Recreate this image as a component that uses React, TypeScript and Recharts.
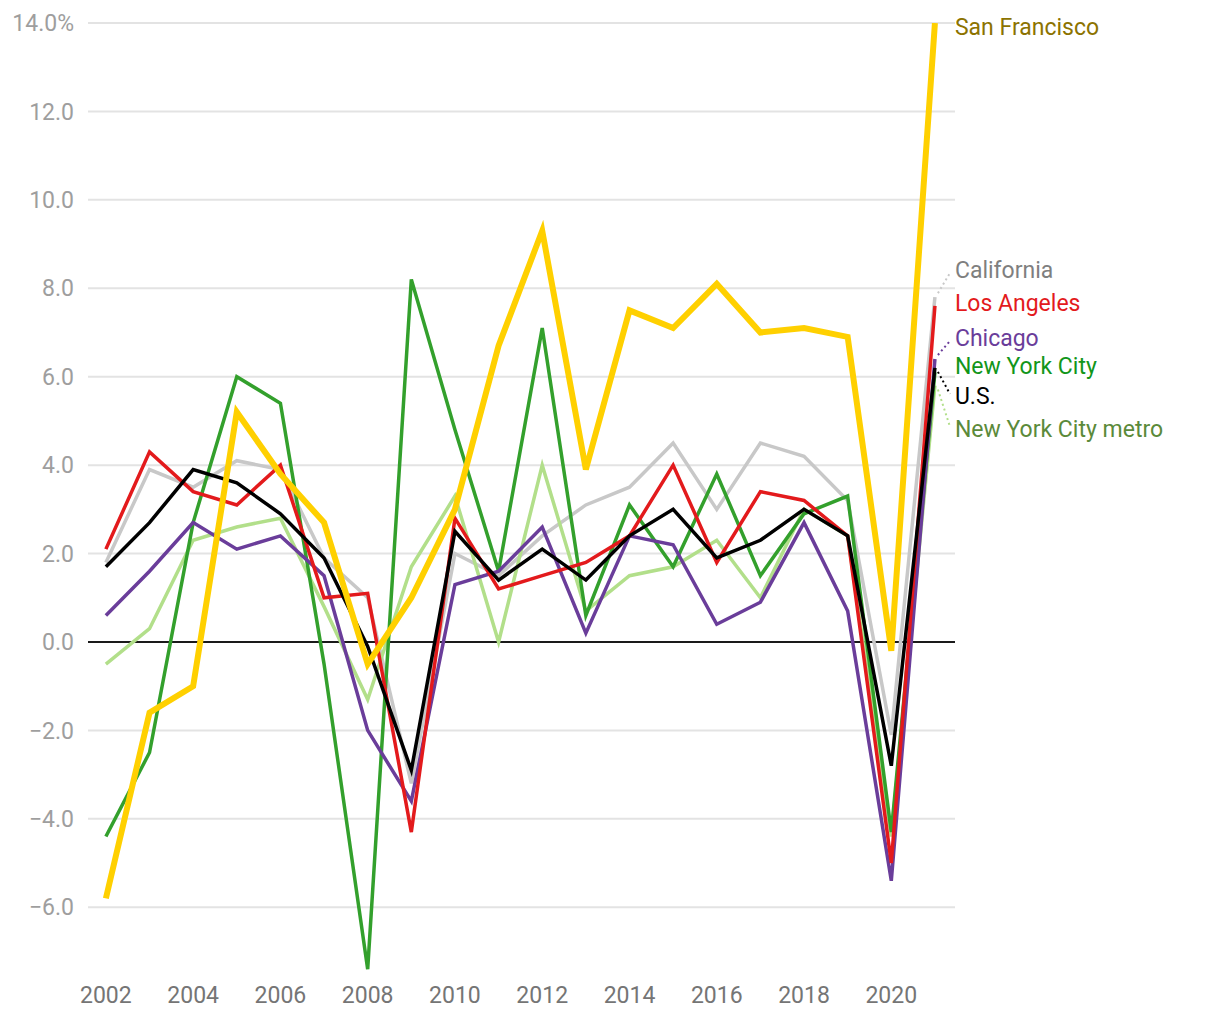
import React from 'react';
import { LineChart, Line, XAxis, YAxis, CartesianGrid, ReferenceLine } from 'recharts';

const years = [2002, 2003, 2004, 2005, 2006, 2007, 2008, 2009, 2010, 2011, 2012, 2013, 2014, 2015, 2016, 2017, 2018, 2019, 2020, 2021];

const sanFrancisco = [-5.8, -1.6, -1.0, 5.2, 3.8, 2.7, -0.5, 1.0, 3.0, 6.7, 9.3, 3.9, 7.5, 7.1, 8.1, 7.0, 7.1, 6.9, -0.2, 14.0];
const california = [1.8, 3.9, 3.5, 4.1, 3.9, 1.9, 1.0, -3.2, 2.0, 1.5, 2.4, 3.1, 3.5, 4.5, 3.0, 4.5, 4.2, 3.2, -2.1, 7.8];
const losAngeles = [2.1, 4.3, 3.4, 3.1, 4.0, 1.0, 1.1, -4.3, 2.8, 1.2, 1.5, 1.8, 2.4, 4.0, 1.8, 3.4, 3.2, 2.4, -5.0, 7.6];
const chicago = [0.6, 1.6, 2.7, 2.1, 2.4, 1.5, -2.0, -3.6, 1.3, 1.6, 2.6, 0.2, 2.4, 2.2, 0.4, 0.9, 2.7, 0.7, -5.4, 6.4];
const newYorkCity = [-4.4, -2.5, 2.7, 6.0, 5.4, -0.5, -7.4, 8.2, 4.8, 1.6, 7.1, 0.6, 3.1, 1.7, 3.8, 1.5, 2.9, 3.3, -4.3, 6.1];
const unitedStates = [1.7, 2.7, 3.9, 3.6, 2.9, 1.9, -0.1, -2.9, 2.5, 1.4, 2.1, 1.4, 2.4, 3.0, 1.9, 2.3, 3.0, 2.4, -2.8, 6.2];
const newYorkMetro = [-0.5, 0.3, 2.3, 2.6, 2.8, 0.8, -1.3, 1.7, 3.3, 0.0, 4.0, 0.7, 1.5, 1.7, 2.3, 1.0, 3.0, 2.4, -4.4, 5.8];

const xTicks = [2002, 2004, 2006, 2008, 2010, 2012, 2014, 2016, 2018, 2020];
const yTicks = [-6, -4, -2, 0, 2, 4, 6, 8, 10, 12, 14];
const yMin = -7.6;
const yMax = 14;

const data = years.map((year, i) => ({
  year,
  sf: sanFrancisco[i],
  ca: california[i],
  la: losAngeles[i],
  chi: chicago[i],
  nyc: newYorkCity[i],
  us: unitedStates[i],
  metro: newYorkMetro[i],
}));

// drawn bottom to top; labelDy = pixel shift of the end label from the last point
const series = [
  { key: 'ca', name: 'California', stroke: '#c8c8c8', text: '#7f7f7f', width: 3.5, labelDy: -27 },
  { key: 'metro', name: 'New York City metro', stroke: '#b2df8a', text: '#5b8a3a', width: 3.5, labelDy: 44 },
  { key: 'nyc', name: 'New York City', stroke: '#33a02c', text: '#12961a', width: 3.5, labelDy: -6 },
  { key: 'chi', name: 'Chicago', stroke: '#6a3d9a', text: '#6a3d9a', width: 3.5, labelDy: -21 },
  { key: 'la', name: 'Los Angeles', stroke: '#e31a1c', text: '#e31a1c', width: 3.5, labelDy: -2 },
  { key: 'us', name: 'U.S.', stroke: '#000000', text: '#000000', width: 3.5, labelDy: 29 },
  { key: 'sf', name: 'San Francisco', stroke: '#ffd000', text: '#8c7300', width: 6, labelDy: 4 },
];

const font = 'Roboto, sans-serif';

const fmtY = (v: number) => {
  const s = Math.abs(v).toFixed(1);
  const txt = v < 0 ? '\u2212' + s : s;
  return v === 14 ? txt + '%' : txt;
};

// grid only at the labelled ticks (no line at the bottom edge)
const gridRows = ({ offset }: any) =>
  yTicks.map((t) => offset.top + ((yMax - t) / (yMax - yMin)) * offset.height);

function endLabel(props: any, s: (typeof series)[number]) {
  const { x, y, index } = props;
  if (index !== years.length - 1) return <g key={`l-${s.key}-${index}`} />;
  const ly = y + s.labelDy;
  const showLeader = Math.abs(s.labelDy) > 8;
  return (
    <g key={`l-${s.key}`}>
      {showLeader && (
        <line
          x1={x + 3}
          y1={y + (s.labelDy > 0 ? 4 : -4)}
          x2={x + 15}
          y2={ly + (s.labelDy > 0 ? -3 : 3)}
          stroke={s.stroke}
          strokeWidth={2}
          strokeDasharray="2 3"
        />
      )}
      <text x={x + 20} y={ly} dominantBaseline="central" fill={s.text} fontSize={23} fontFamily={font}>
        {s.name}
      </text>
    </g>
  );
}

export default function App() {
  return (
    <div style={{ position: 'absolute', left: 0, top: 0, width: 1220, height: 1020, background: '#fff' }}>
      <LineChart width={1220} height={1020} data={data} margin={{ top: 23, right: 265, bottom: 0, left: 0 }}>
        <CartesianGrid vertical={false} stroke="#e3e3e3" strokeWidth={2} horizontalCoordinatesGenerator={gridRows} />
        <XAxis
          dataKey="year"
          type="number"
          domain={[2001.59, 2021.46]}
          ticks={xTicks}
          axisLine={false}
          tickLine={false}
          height={42}
          tickMargin={3}
          tick={{ fill: '#757575', fontSize: 23, fontFamily: font }}
        />
        <YAxis
          domain={[yMin, yMax]}
          ticks={yTicks}
          axisLine={false}
          tickLine={false}
          width={88}
          tickMargin={8}
          tickFormatter={fmtY}
          allowDataOverflow
          tick={{ fill: '#9e9e9e', fontSize: 23, fontFamily: font }}
        />
        <ReferenceLine y={0} stroke="#1a1a1a" strokeWidth={2} />
        {series.map((s) => (
          <Line
            key={s.key}
            dataKey={s.key}
            type="linear"
            stroke={s.stroke}
            strokeWidth={s.width}
            dot={false}
            activeDot={false}
            isAnimationActive={false}
            label={(p: any) => endLabel(p, s)}
          />
        ))}
      </LineChart>
    </div>
  );
}
